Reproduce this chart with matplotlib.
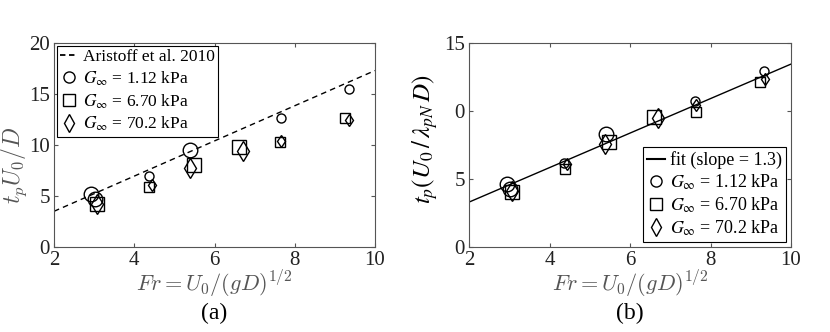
#!/usr/bin/env python3

import matplotlib
matplotlib.use("Agg")
import matplotlib.pyplot as plt
from matplotlib.lines import Line2D

plt.rcParams["font.family"] = ["Liberation Serif", "DejaVu Serif"]
plt.rcParams["mathtext.fontset"] = "stix"

# (a) penetration time t_p U0 / D
aristoff_fr = [2, 10]
aristoff_t = [3.5, 17.3]

a_circ_fr = [2.92, 3.02, 4.36, 5.40, 7.65, 9.36]
a_circ_t = [5.2, 4.7, 7.0, 9.5, 12.6, 15.5]
a_circ_big = [1, 1, 0, 1, 0, 0]

a_sq_fr = [3.07, 4.38, 5.48, 6.61, 7.64, 9.24]
a_sq_t = [4.2, 5.85, 8.0, 9.85, 10.3, 12.6]
a_sq_big = [1, 0, 1, 1, 0, 0]

a_dia_fr = [3.07, 4.43, 5.38, 6.71, 7.66, 9.36]
a_dia_t = [4.2, 6.1, 7.7, 9.45, 10.35, 12.45]
a_dia_big = [1, 0, 1, 1, 0, 0]

# (b) rescaled with relaxation time
fit_fr = [2, 10]
fit_t = [3.3, 13.45]

b_circ_fr = [2.94, 3.02, 4.36, 5.40, 7.62, 9.34]
b_circ_t = [4.65, 4.25, 6.2, 8.3, 10.7, 12.95]
b_circ_big = [1, 1, 0, 1, 0, 0]

b_sq_fr = [3.06, 4.39, 5.48, 6.59, 7.64, 9.24]
b_sq_t = [4.05, 5.75, 7.75, 9.55, 9.95, 12.1]
b_sq_big = [1, 0, 1, 1, 0, 0]

b_dia_fr = [3.06, 4.43, 5.38, 6.69, 7.64, 9.36]
b_dia_t = [4.1, 6.1, 7.55, 9.45, 10.45, 12.35]
b_dia_big = [1, 0, 1, 1, 0, 0]

labels = [r"$G_{\infty}$ = 1.12 kPa", r"$G_{\infty}$ = 6.70 kPa", r"$G_{\infty}$ = 70.2 kPa"]

GREY = "#555555"


def draw_points(ax, fr, t, big, marker):
    for x, y, b in zip(fr, t, big):
        ax.plot(x, y, marker=marker, ms=10.5 if b else 6.5, mfc="none",
                mec="black", mew=1.0, ls="none")


def style_axes(ax):
    ax.set_xlim(2, 10)
    ax.set_xticks([2, 4, 6, 8, 10])
    ax.tick_params(direction="in", top=True, right=True, length=3, pad=3,
                   labelsize=15, colors=GREY, labelcolor="#222222")
    for s in ax.spines.values():
        s.set_color(GREY)
        s.set_linewidth(0.8)
    ax.set_xlabel(r"$Fr = U_0/(gD)^{1/2}$", fontsize=16, color=GREY, labelpad=-1,
                  math_fontfamily="cm")


def legend_handles(first):
    hs = [first]
    for m in ["o", "s", "d"]:
        hs.append(Line2D([], [], marker=m, ms=9 if m == "d" else 8,
                         mfc="none", mec="black", mew=1.0, ls="none"))
    return hs


def main():
    fig = plt.figure(figsize=(8.3, 3.32), dpi=100)
    ax1 = fig.add_axes([54 / 830, 1 - 247 / 332, 321 / 830, 204 / 332])
    ax2 = fig.add_axes([469 / 830, 1 - 247 / 332, 322 / 830, 204 / 332])

    # panel (a)
    ax1.plot(aristoff_fr, aristoff_t, ls=(0, (4, 3)), color="black", lw=1.0)
    draw_points(ax1, a_circ_fr, a_circ_t, a_circ_big, "o")
    draw_points(ax1, a_sq_fr, a_sq_t, a_sq_big, "s")
    draw_points(ax1, a_dia_fr, a_dia_t, a_dia_big, "d")
    style_axes(ax1)
    ax1.set_ylim(0, 20)
    ax1.set_yticks([0, 5, 10, 15, 20])
    ax1.set_ylabel(r"$t_pU_0/D$", fontsize=17, color=GREY, math_fontfamily="cm")
    ax1.yaxis.set_label_coords(-0.078, 0.4)
    h = legend_handles(Line2D([], [], ls=(0, (3, 2)), color="black", lw=1.3))
    leg = ax1.legend(h, ["Aristoff et al. 2010"] + labels, loc="upper left",
                     fontsize=12.5, handlelength=1.0, handletextpad=0.3,
                     borderpad=0.2, labelspacing=0.25, borderaxespad=0.15,
                     fancybox=False, framealpha=1, edgecolor="black")
    leg.get_frame().set_linewidth(0.8)
    fig.text((54 + 375) / 2 / 830, 1 - 313 / 332, "(a)", ha="center", va="center", fontsize=17)

    # panel (b)
    ax2.plot(fit_fr, fit_t, color="black", lw=1.0)
    draw_points(ax2, b_circ_fr, b_circ_t, b_circ_big, "o")
    draw_points(ax2, b_sq_fr, b_sq_t, b_sq_big, "s")
    draw_points(ax2, b_dia_fr, b_dia_t, b_dia_big, "d")
    style_axes(ax2)
    ax2.set_ylim(0, 15)
    ax2.set_yticks([0, 5, 10, 15])
    ax2.set_yticklabels(["0", "5", "0", "15"])
    ax2.set_ylabel(r"$t_p(U_0\,/\,\lambda_{pN}\,D)$", fontsize=18, color="black")
    ax2.yaxis.set_label_coords(-0.09, 0.53)
    h = legend_handles(Line2D([], [], color="black", lw=1.5))
    leg = ax2.legend(h, ["fit (slope = 1.3)"] + labels, loc="lower right",
                     fontsize=13, handlelength=1.0, handletextpad=0.3,
                     borderpad=0.2, labelspacing=0.2, borderaxespad=0.3,
                     fancybox=False, framealpha=1, edgecolor="black")
    leg.get_frame().set_linewidth(0.8)
    fig.text((469 + 791) / 2 / 830, 1 - 313 / 332, "(b)", ha="center", va="center", fontsize=17)

    fig.savefig("out.png", dpi=100)


if __name__ == "__main__":
    main()
